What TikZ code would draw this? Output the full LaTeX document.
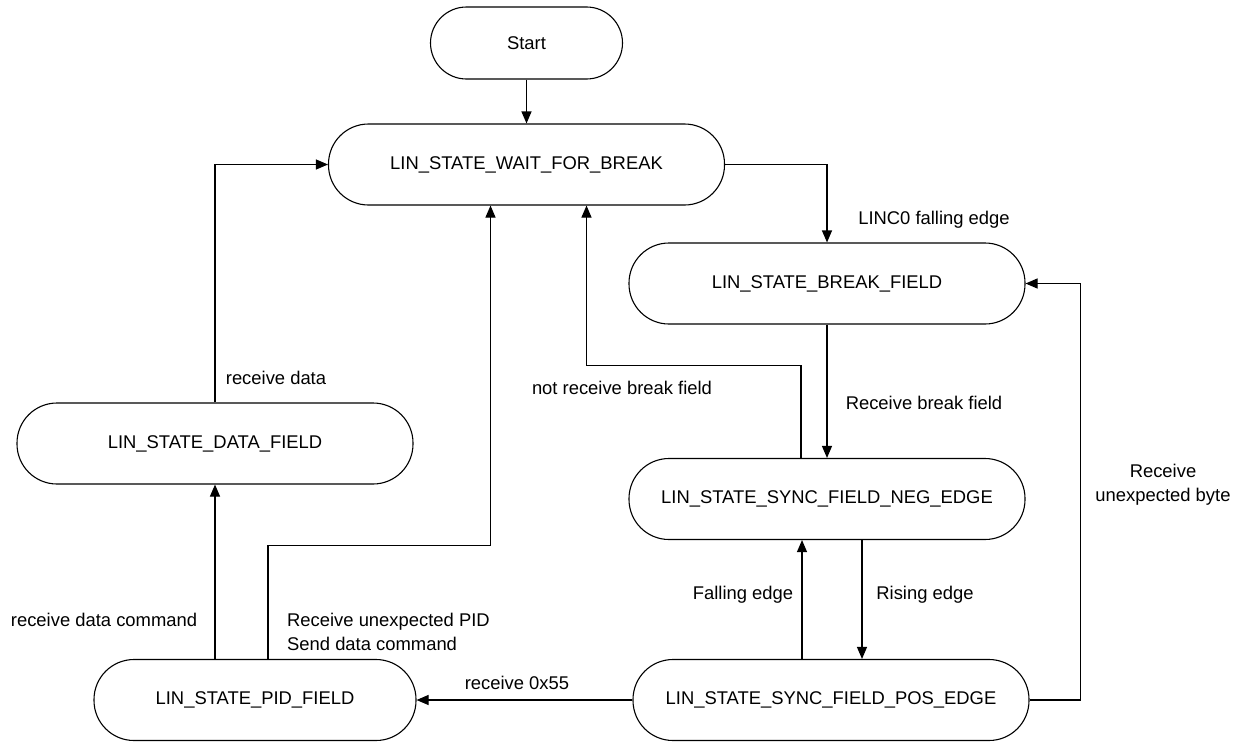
\documentclass[tikz,border=0pt]{standalone}
\usepackage{fontspec}
\setmainfont{Liberation Sans}
\usetikzlibrary{arrows.meta,positioning,calc}
\tikzstyle{state} = [draw, rectangle, rounded corners=40pt, minimum width=396pt, minimum height=81pt, inner sep=0pt, line width=1.1pt, font=\fontsize{18.4}{24}\selectfont]
\tikzstyle{flow} = [line width=1.1pt, -{Triangle[length=12pt,width=10pt]}]
\tikzstyle{cond} = [inner sep=0pt, font=\fontsize{18.4}{24}\selectfont]

\begin{document}
\begin{tikzpicture}[x=1pt,y=-1pt]
        \useasboundingbox (0,0) rectangle (1239,744);

        \node[state, minimum width=192pt, minimum height=72pt, rounded corners=36pt] (start) at (526.5,43) {Start};
        \node[state] (wait) at (526.5,164.5) {LIN\_STATE\_WAIT\_FOR\_BREAK};
        \node[state] (brk) at (827,283.5) {LIN\_STATE\_BREAK\_FIELD};
        \node[state] (data) at (215,443.5) {LIN\_STATE\_DATA\_FIELD};
        \node[state] (neg) at (827,499) {LIN\_STATE\_SYNC\_FIELD\_NEG\_EDGE};
        \node[state, minimum width=322pt] (pid) at (255,700) {LIN\_STATE\_PID\_FIELD};
        \node[state] (pos) at (831,700) {LIN\_STATE\_SYNC\_FIELD\_POS\_EDGE};

        \coordinate (rise) at ([xshift=35pt]neg.south);
        \coordinate (fall) at ([xshift=-25pt]neg.south);
        \coordinate (pidup) at ([xshift=13pt]pid.north);

        \draw[flow] (start) -- (wait);
        \draw[flow] (wait.east) -| (brk.north);
        \draw[flow] (brk.south) -- (neg.north);
        \draw[flow] ([xshift=-26pt]neg.north) |- ([xshift=60pt,yshift=-160pt]wait.south) -- ([xshift=60pt]wait.south);
        \draw[flow] (rise) -- (rise |- pos.north);
        \draw[flow] (fall |- pos.north) -- (fall);
        \draw[flow] (pos.east) -| ([xshift=55pt]brk.east) -- (brk.east);
        \draw[flow] (pos.west) -- (pid.east);
        \draw[flow] (pid.north -| data.south) -- (data.south);
        \draw[flow] (pidup) |- ([xshift=-36pt,yshift=-340pt]wait.south) -- ([xshift=-36pt]wait.south);
        \draw[flow] (data.north) |- (wait.west);

        \node[cond] (lfalledge) at (934,220) {LINC0 falling edge};
        \node[cond] (lgotbrk) at (924,403) {Receive break field};
        \node[cond] (lnobrk) at (622,388) {not receive break field};
        \node[cond] (lrise) at (925,595) {Rising edge};
        \node[cond] (lfall) at (743,595) {Falling edge};
        \node[cond, align=center] (lbyte) at (1163,485) {Receive\\unexpected byte};
        \node[cond] (lsync) at (517,683) {receive 0x55};
        \node[cond] (ldatacmd) at (104,620) {receive data command};
        \node[cond, align=left, anchor=west] (lbadpid) at (287,632) {Receive unexpected PID\\Send data command};
        \node[cond] (ldata) at (276,378) {receive data};
\end{tikzpicture}
\end{document}
